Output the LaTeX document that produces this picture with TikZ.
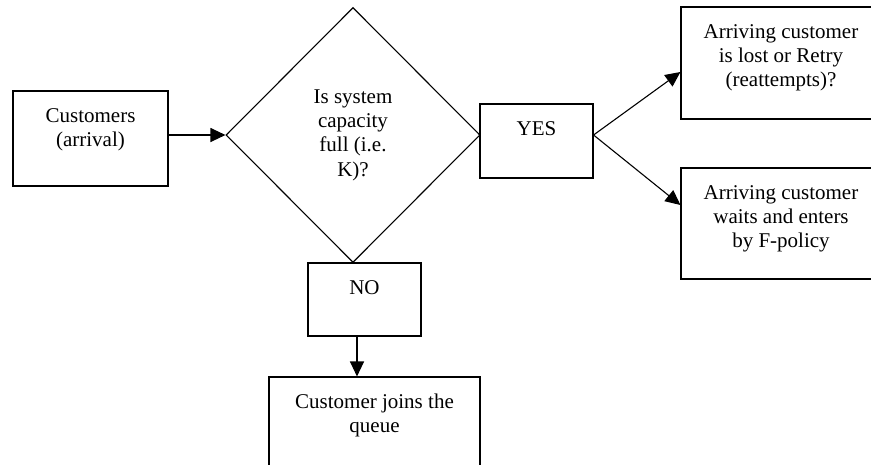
\documentclass[tikz,border=0pt]{standalone}
\usepackage{fontspec}
\setmainfont{Liberation Serif}
\usetikzlibrary{shapes.geometric,arrows.meta}
% text of a box, set from the top
\newcommand{\boxtext}[3]{\parbox[t][#2][t]{#1}{\centering\vspace*{14pt}\strut #3}}
\begin{document}
\begin{tikzpicture}[x=1pt,y=-1pt,line join=miter,font=\fontsize{21}{24.3}\selectfont,
	box/.style={draw,line width=1.1pt,inner sep=0pt},
	decision/.style={diamond,draw,line width=1.1pt,inner sep=0pt,minimum width=254pt,minimum height=255pt,align=center},
	arrow/.style={line width=1.1pt,-{Triangle[length=15pt,width=14pt]}}]
	\useasboundingbox (0,0) rectangle (871,464);
	\node [box] (cust) at (90.5,138.5) {\boxtext{155pt}{95pt}{Customers\\(arrival)}};
	\node [decision] (full) at (353,135) {Is system\\capacity\\full (i.e.\\K)?};
	\node [box] (yes) at (536.5,141) {\boxtext{113pt}{74pt}{YES}};
	\node [box] (lost) at (781,63) {\boxtext{200pt}{112pt}{Arriving customer\\is lost or Retry\\(reattempts)?}};
	\node [box] (wait) at (781,223.5) {\boxtext{200pt}{111pt}{Arriving customer\\waits and enters\\by F-policy}};
	\node [box] (no) at (364.5,299.5) {\boxtext{113pt}{73pt}{NO}};
	\node [box] (queue) at (374.5,424.5) {\boxtext{211pt}{95pt}{Customer joins the\\queue}};
	\draw [arrow] (cust.east |- full.west)--(full.west);
	\draw [arrow] (full.east -| yes.east)--([yshift=-9pt]lost.west);
	\draw [arrow] (full.east -| yes.east)--([yshift=18.5pt]wait.west);
	\draw [arrow] ([xshift=-7.5pt]no.south)--([xshift=-7.5pt]no.south |- queue.north);
\end{tikzpicture}
\end{document}
